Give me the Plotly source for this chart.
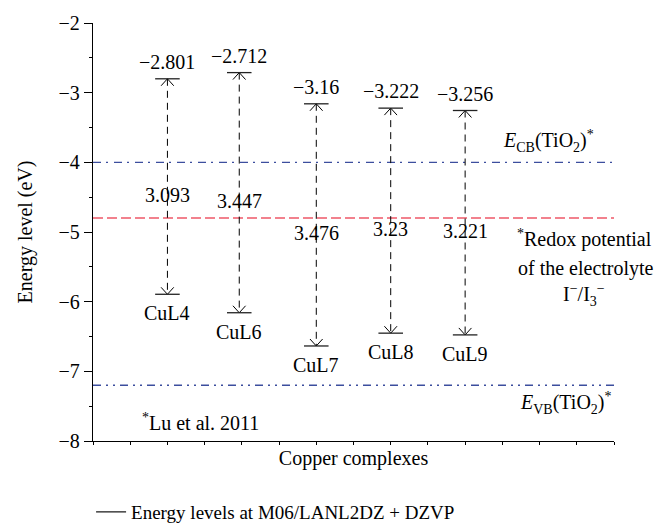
import plotly.graph_objects as go

# ---- data ----
complexes = ["CuL4", "CuL6", "CuL7", "CuL8", "CuL9"]
x_pos = [2, 3.93, 6, 8, 10]
lumo = [-2.801, -2.712, -3.16, -3.222, -3.256]
gap = [3.093, 3.447, 3.476, 3.23, 3.221]
e_cb = -4.0
e_redox = -4.8
e_vb = -7.2
y_ticks = [-2, -3, -4, -5, -6, -7, -8]

homo = [round(l - g, 3) for l, g in zip(lumo, gap)]

FONT = "Liberation Serif"
FS = 20
BLUE = "#3c4e9e"
RED = "#ee5868"

fig = go.Figure()

# reference lines
fig.add_trace(go.Scatter(x=[0, 14], y=[e_cb, e_cb], mode="lines", showlegend=False,
                         line=dict(color=BLUE, width=1.3, dash="8px,5px,2px,6px"), hoverinfo="skip"))
fig.add_trace(go.Scatter(x=[0, 14], y=[e_redox, e_redox], mode="lines", showlegend=False,
                         line=dict(color=RED, width=1.5, dash="10px,4px"), hoverinfo="skip"))
fig.add_trace(go.Scatter(x=[0, 14], y=[e_vb, e_vb], mode="lines", showlegend=False,
                         line=dict(color=BLUE, width=1.3, dash="8px,5px,2px,5px,2px,5px"), hoverinfo="skip"))

# dashed shafts
sx, sy = [], []
for x, t, b in zip(x_pos, lumo, homo):
    sx += [x, x, None]
    sy += [t, b, None]
fig.add_trace(go.Scatter(x=sx, y=sy, mode="lines", showlegend=False,
                         line=dict(color="black", width=1, dash="7px,5px"), hoverinfo="skip"))

# arrowheads (chevrons)
hw, hh = 0.17, 0.1
ax, ay = [], []
for x, t, b in zip(x_pos, lumo, homo):
    ax += [x - hw, x, x + hw, None, x - hw, x, x + hw, None]
    ay += [t - hh, t, t - hh, None, b + hh, b, b + hh, None]
fig.add_trace(go.Scatter(x=ax, y=ay, mode="lines", showlegend=False,
                         line=dict(color="black", width=1), hoverinfo="skip"))

# energy level bars
half = 0.33
bx, by = [], []
for x, t, b in zip(x_pos, lumo, homo):
    bx += [x - half, x + half, None, x - half, x + half, None]
    by += [t, t, None, b, b, None]
fig.add_trace(go.Scatter(x=bx, y=by, mode="lines", name="Energy levels at M06/LANL2DZ + DZVP",
                         line=dict(color="#222222", width=1.3), hoverinfo="skip"))

ann = []
for name, x, t, b, g in zip(complexes, x_pos, lumo, homo, gap):
    ann.append(dict(x=x, y=t, text=str(t).replace("-", "\u2212"), showarrow=False,
                    yanchor="bottom", yshift=4, font=dict(size=FS)))
    ann.append(dict(x=x, y=(t + b) / 2 - 0.12, text=str(g), showarrow=False,
                    yanchor="middle", font=dict(size=FS)))
    ann.append(dict(x=x, y=b - 0.27, text=name, showarrow=False,
                    yanchor="middle", font=dict(size=FS)))

ann += [
    dict(x=12.25, y=-3.7, text="<i>E</i><sub>CB</sub>(TiO<sub>2</sub>)<sup>*</sup>", showarrow=False, font=dict(size=FS)),
    dict(x=13.2, y=-5.1, text="<sup>*</sup>Redox potential", showarrow=False, font=dict(size=FS)),
    dict(x=13.25, y=-5.53, text="of the electrolyte", showarrow=False, font=dict(size=FS)),
    dict(x=13.2, y=-5.9, text="I<sup>\u2212</sup>/I<sub>3</sub><sup>\u2212</sup>", showarrow=False, font=dict(size=FS)),
    dict(x=12.7, y=-7.46, text="<i>E</i><sub>VB</sub>(TiO<sub>2</sub>)<sup>*</sup>", showarrow=False, font=dict(size=FS)),
    dict(x=2.88, y=-7.73, text="<sup>*</sup>Lu et al. 2011", showarrow=False, font=dict(size=FS)),
]

fig.update_layout(
    width=660, height=523,
    margin=dict(l=93, r=46, t=17, b=81.5),
    paper_bgcolor="white", plot_bgcolor="white",
    font=dict(family=FONT, size=FS, color="black"),
    annotations=ann,
    showlegend=True,
    legend=dict(orientation="h", xref="container", yref="container", x=0.138, y=0.021,
                xanchor="left", yanchor="middle", font=dict(size=FS - 1), bgcolor="rgba(0,0,0,0)"),
    xaxis=dict(range=[0, 14], tickvals=list(range(0, 15)), showticklabels=False,
               ticks="outside", ticklen=3, tickcolor="black", showline=True, linecolor="black",
               linewidth=1.3, showgrid=False, zeroline=False,
               title=dict(text="Copper complexes", font=dict(size=FS), standoff=6)),
    yaxis=dict(range=[-8, -2], tickvals=y_ticks, ticks="outside", ticklen=8, tickcolor="black",
               showline=True, linecolor="black", linewidth=1.3, showgrid=False, zeroline=False,
               minor=dict(dtick=0.5, ticks="outside", ticklen=3, tickcolor="black"),
               tickfont=dict(size=FS),
               title=dict(text="Energy level (eV)", font=dict(size=FS), standoff=20)),
)

fig.write_html("out.html")
